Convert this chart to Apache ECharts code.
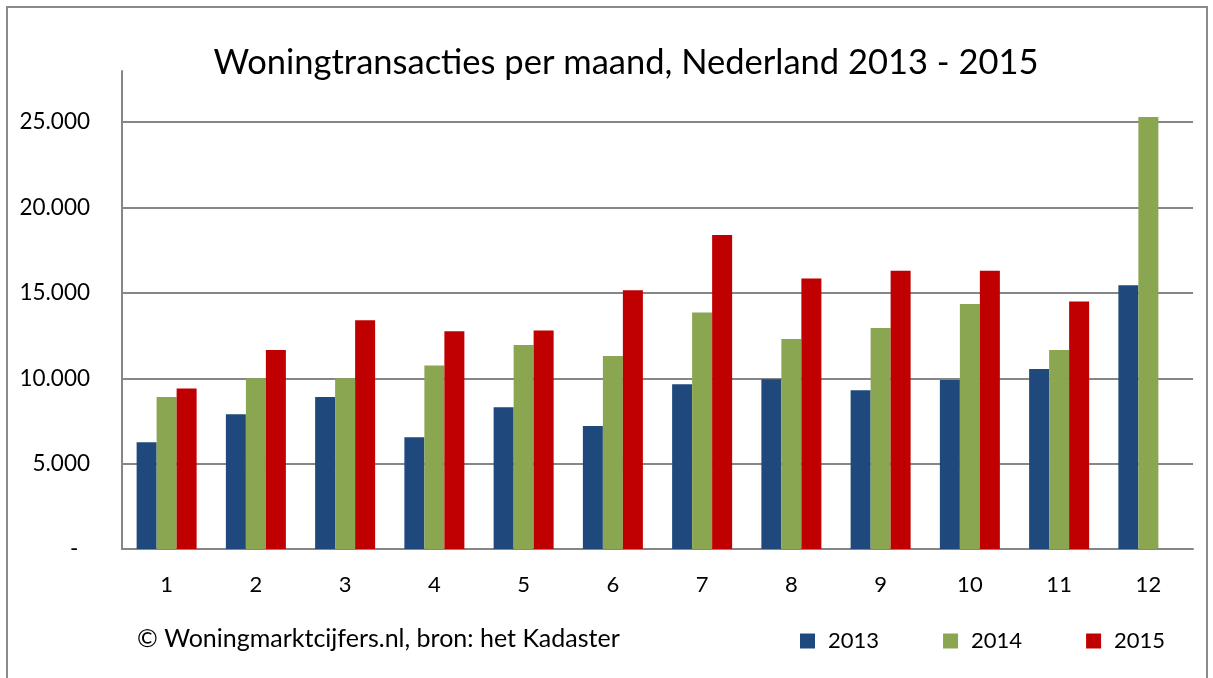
<!DOCTYPE html>
<html>
<head>
<meta charset="utf-8">
<script src="https://cdn.jsdelivr.net/npm/echarts@6/dist/echarts.min.js"></script>
<style>
    html, body { margin: 0; padding: 0; background: #fff; overflow: hidden; }
    #frame { position: absolute; left: 6px; top: 6px; width: 1198px; height: 700px; border: 2px solid #8a8a8a; }
    #chart { position: absolute; left: 0; top: 0; width: 1213px; height: 678px; }
</style>
</head>
<body>
<div id="frame"></div>
<div id="chart"></div>
<script>
// maanden
var months = ["1", "2", "3", "4", "5", "6", "7", "8", "9", "10", "11", "12"];
// woningtransacties per jaar
var data2013 = [6250, 7900, 8900, 6550, 8300, 7200, 9650, 9950, 9300, 9900, 10550, 15450];
var data2014 = [8900, 10000, 10000, 10750, 11950, 11300, 13850, 12300, 12950, 14350, 11650, 25300];
var data2015 = [9400, 11650, 13400, 12750, 12800, 15150, 18400, 15850, 16300, 16300, 14500, null];
// rasterlijnen van de y-as
var gridValues = [5000, 10000, 15000, 20000, 25000];

var font = "Lato";
var myChart = echarts.init(document.getElementById("chart"));

function fmt(v) {
    if (v === 0) return "-  ";
    if (v % 5000 !== 0) return "";
    return String(v).replace(/\B(?=(\d{3})+(?!\d))/g, ".");
}

var option = {
    animation: false,
    title: {
        text: "Woningtransacties per maand, Nederland 2013 - 2015",
        left: 621,
        textAlign: "center",
        top: 40,
        textStyle: { fontFamily: font, fontSize: 34.5, fontWeight: "normal", color: "#000" }
    },
    legend: {
        left: 795,
        top: 625,
        itemWidth: 15,
        itemHeight: 15,
        itemGap: 64,
        icon: "rect",
        textStyle: { fontFamily: font, fontSize: 22, color: "#000", padding: [0, 0, 0, 8] },
        data: ["2013", "2014", "2015"]
    },
    graphic: [{
        type: "text",
        left: 137,
        top: 626,
        style: { text: "© Woningmarktcijfers.nl, bron: het Kadaster", font: "25px Lato", fill: "#000" }
    }],
    grid: { left: 122, right: 20, top: 71, bottom: 129 },
    xAxis: {
        type: "category",
        data: months,
        axisLine: { lineStyle: { color: "#868686", width: 2 } },
        axisTick: { show: false },
        axisLabel: { color: "#000", fontFamily: font, fontSize: 22, margin: 25 }
    },
    yAxis: {
        type: "value",
        min: 0,
        max: 28000,
        interval: 5000,
        axisLine: { show: true, lineStyle: { color: "#868686", width: 2 } },
        axisTick: { show: false },
        splitLine: { show: false },
        axisLabel: { color: "#000", fontFamily: font, fontSize: 22.5, margin: 32, showMaxLabel: false, formatter: fmt }
    },
    series: [
        {
            name: "2013", type: "bar", data: data2013, barWidth: 20, barGap: "0%",
            itemStyle: { color: "#1F497D" },
            markLine: {
                z: 1, silent: true, symbol: "none", label: { show: false },
                lineStyle: { color: "#868686", width: 2, type: "solid" },
                data: gridValues.map(function (v) { return { yAxis: v }; })
            }
        },
        { name: "2014", type: "bar", data: data2014, barWidth: 20, itemStyle: { color: "#8AA650" } },
        { name: "2015", type: "bar", data: data2015, barWidth: 20, itemStyle: { color: "#C00000" } }
    ]
};
myChart.setOption(option);
</script>
</body>
</html>
